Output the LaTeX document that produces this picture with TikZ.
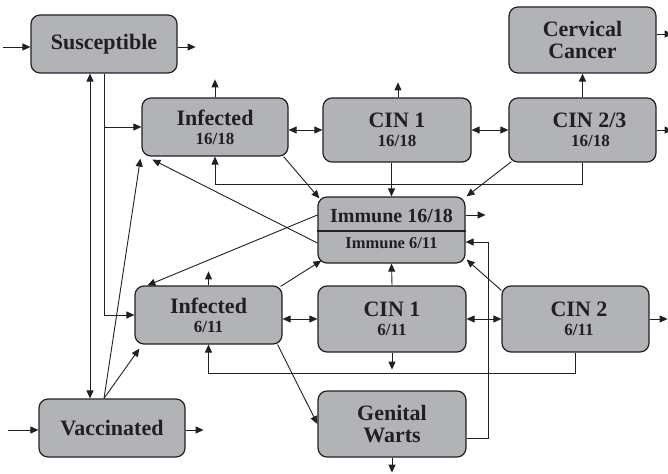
\documentclass[tikz,border=0pt]{standalone}
\usepackage{fontspec}
\setmainfont{Liberation Serif}
\usetikzlibrary{arrows.meta,calc}
\definecolor{boxfill}{RGB}{178,179,182}
\definecolor{ink}{RGB}{35,31,32}
\newcommand\FontSub{\fontsize{17}{19}\selectfont}
\begin{document}
\begin{tikzpicture}[x=1pt,y=-1pt,
  box/.style={draw=ink, line width=1.2pt, fill=boxfill, rounded corners=9pt, inner sep=0pt, align=center, text=ink, font={\bfseries\fontsize{22}{19}\selectfont}},
  boxtwo/.style={box, font={\bfseries\fontsize{22}{21.5}\selectfont}},
  txtA/.style={inner sep=0pt, text=ink, font={\bfseries\fontsize{20}{20}\selectfont}},
  txtB/.style={inner sep=0pt, text=ink, font={\bfseries\fontsize{16.5}{16.5}\selectfont}},
  tip/.tip={Triangle[length=8pt,width=7pt]},
  arr/.style={line width=0.9pt, draw=ink, -tip},
  dbl/.style={line width=0.9pt, draw=ink, tip-tip},
  ln/.style={line width=0.9pt, draw=ink}]
\useasboundingbox (0,0) rectangle (668,473);

% boxes
\node[box, minimum width=146pt, minimum height=58pt] (sus) at (104,44) {Susceptible};
\node[box, minimum width=146pt, minimum height=58pt] (inf1) at (215,127) {Infected\\\FontSub 16/18};
\node[box, minimum width=148pt, minimum height=64pt] (cin1a) at (397,130) {CIN 1\\\FontSub 16/18};
\node[box, minimum width=147pt, minimum height=64pt] (cin23) at (582.5,130) {\hspace*{14pt}CIN 2/3\\\FontSub\hspace*{16pt}16/18};
\node[boxtwo, minimum width=147pt, minimum height=66pt] (cc) at (582.5,40) {Cervical\\Cancer};
\node[box, minimum width=147pt, minimum height=66pt] (imm) at (391.5,230) {};
\node[box, minimum width=147pt, minimum height=58pt] (inf2) at (208.5,315) {Infected\\\FontSub 6/11};
\node[box, minimum width=148pt, minimum height=66pt] (cin1b) at (392,319) {CIN 1\\\FontSub 6/11};
\node[box, minimum width=147pt, minimum height=66pt] (cin2b) at (575.5,319) {\hspace*{7pt}CIN 2\\\FontSub\hspace*{7pt}6/11};
\node[boxtwo, minimum width=148pt, minimum height=66pt] (gw) at (392,424) {Genital\\Warts};
\node[box, minimum width=146pt, minimum height=58pt] (vac) at (112,428) {Vaccinated};

% immune split
\draw[draw=ink, line width=1.2pt] ([shift={(0,1)}]imm.west) -- ([shift={(0,1)}]imm.east);
\node[txtA] (immA) at ([shift={(0,-14)}]imm.center) {Immune 16/18};
\node[txtB] (immB) at ([shift={(0,13)}]imm.center) {Immune 6/11};

% free ends
\coordinate (susin) at (3,47);
\coordinate (vacin) at (8,430);

% susceptible
\draw[arr] (susin) -- (susin -| sus.west);
\draw[arr] (sus.east |- susin) -- +(18,0);
\draw[arr] (sus.south) |- (inf1.west);
\draw[arr] (sus.south) |- (inf2.west);
\draw[dbl] ([shift={(-14,0)}]sus.south) -- ([shift={(-14,0)}]sus.south |- vac.north);

% vaccinated
\draw[arr] (vacin) -- (vacin -| vac.west);
\draw[arr] (vac.east |- vacin) -- +(18,0);
\draw[arr] ([shift={(-8,0)}]vac.north) -- ([shift={(-1,2)}]inf1.south west);
\draw[arr] ([shift={(-8,0)}]vac.north) -- ([shift={(5,4)}]inf2.south west);

% 16/18 row
\draw[arr] (inf1.north) -- +(0,-18);
\draw[arr] ([shift={(1,0)}]cin1a.north) -- +(0,-15);
\draw[arr] (cin23.north) -- (cc.south);
\draw[arr] ([shift={(0,-6)}]cc.east) -- +(16,0);
\draw[arr] (cin23.east) -- +(16,0);
\draw[dbl] (cin1a.west -| inf1.east) -- (cin1a.west);
\draw[dbl] (cin1a.east) -- (cin23.west);
\draw[arr] (cin23.south) -- ++(0,22) -| (inf1.south);
\draw[arr] (cin1a.south -| imm.north) -- (imm.north);
\draw[arr] ([shift={(-5,0)}]inf1.south east) -- ([shift={(2,2)}]imm.north west);
\draw[arr] ([shift={(3,-1)}]cin23.south west) -- ([shift={(1,0)}]imm.north east);

% immune
\draw[arr] ([shift={(0,-15)}]imm.east) -- +(20,0);
\draw[arr] ([shift={(0,-15)}]imm.west) -- ([shift={(13,0)}]inf2.north west);
\draw[arr] ([shift={(0,13)}]imm.west) -- ([shift={(11,3)}]inf1.south west);

% 6/11 row
\draw[arr] ([shift={(-2,1)}]inf2.north east) -- ([shift={(4,-3)}]imm.south west);
\draw[arr] (inf2.north) -- +(0,-14);
\draw[arr] (cin1b.north) -- (imm.south);
\draw[arr] ([shift={(0,5)}]cin2b.north west) -- ([shift={(1,-4)}]imm.south east);
\draw[arr] ([shift={(0,14)}]gw.east) -- ++(22,0) |- ([shift={(0,12)}]imm.east);
\draw[dbl] (cin1b.west -| inf2.east) -- (cin1b.west);
\draw[dbl] (cin1b.east) -- (cin2b.west);
\draw[arr] (cin2b.east) -- +(18,0);
\draw[arr] (cin2b.south) -- ++(0,21) -| (inf2.south);
\draw[arr] (cin1b.south) -- +(0,17);
\draw[arr] ([shift={(-5,0)}]inf2.south east) -- (gw.west);
\draw[arr] (gw.south) -- +(0,15);
\end{tikzpicture}
\end{document}
